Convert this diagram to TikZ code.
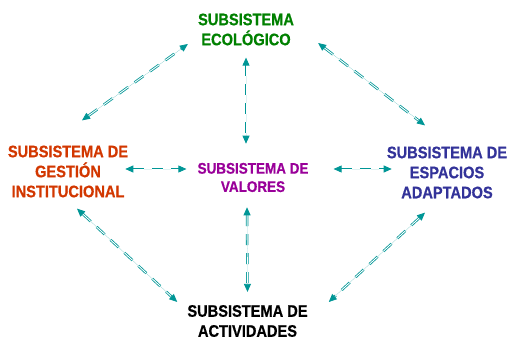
\documentclass[tikz,border=0pt]{standalone}
\usepackage{fontspec}
\newfontfamily\diagfont{Liberation Sans}[FakeStretch=0.875, BoldFeatures={FakeBold=0.6}]
\usetikzlibrary{arrows.meta}
\definecolor{ecogreen}{RGB}{0,128,0}
\definecolor{gestred}{RGB}{210,55,0}
\definecolor{valpurple}{RGB}{153,0,153}
\definecolor{espblue}{RGB}{51,51,153}
\definecolor{linkteal}{RGB}{0,150,150}

\begin{document}
\begin{tikzpicture}[
    x=1pt, y=1pt,
    every node/.style={align=center, inner sep=0pt, font=\diagfont\bfseries\fontsize{16.7}{20}\selectfont},
    subsmall/.style={font=\diagfont\bfseries\fontsize{15.4}{18.3}\selectfont},
    link/.style={{Triangle[length=8pt,width=7pt]}-{Triangle[length=8pt,width=7pt]}, draw=linkteal, fill=linkteal,
        line width=0.8pt, double=white, double distance=0.9pt, dash pattern=on 11pt off 8pt}
]
\useasboundingbox (0,0) rectangle (510,-339);

% Subsystems
\node[text=ecogreen] (eco) at (246,-29.5) {SUBSISTEMA\\ECOLÓGICO};
\node[text=gestred] (gest) at (68,-171.5) {SUBSISTEMA DE\\GESTIÓN\\INSTITUCIONAL};
\node[subsmall, text=valpurple] (val) at (253,-177.5) {SUBSISTEMA DE\\VALORES};
\node[text=espblue] (esp) at (447,-172.5) {SUBSISTEMA DE\\ESPACIOS\\ADAPTADOS};
\node (act) at (247.5,-321) {SUBSISTEMA DE\\ACTIVIDADES};

% Links round the outside
\draw[link] ([shift={(14,25)}]gest.north) -- ([shift={(-10,-14.5)}]eco.west);
\draw[link] ([shift={(24,-13.5)}]eco.east) -- ([shift={(-22,21)}]esp.north);
\draw[link] ([shift={(9,-11)}]gest.south) -- ([shift={(-10,19)}]act.west);
\draw[link] ([shift={(-22,-14)}]esp.south) -- ([shift={(21,19)}]act.east);

% Links to the centre
\draw[link] ([yshift=-12]eco.south) -- ([shift={(-7,19)}]val.north);
\draw[link] ([shift={(-3,2.5)}]gest.east) -- ([shift={(-11,8.5)}]val.west);
\draw[link] ([shift={(25,8.5)}]val.east) -- ([shift={(5,3.5)}]esp.west);
\draw[link] ([shift={(-6,-15)}]val.south) -- ([yshift=13]act.north);

\end{tikzpicture}
\end{document}
